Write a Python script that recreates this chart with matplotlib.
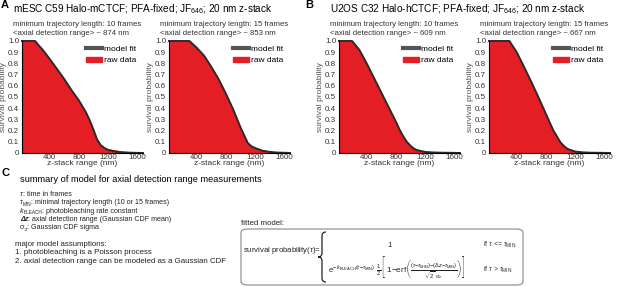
import matplotlib
matplotlib.use("Agg")
import matplotlib.pyplot as plt
from matplotlib.lines import Line2D
from matplotlib.patches import Patch, FancyBboxPatch, PathPatch
from matplotlib.path import Path

plt.rcParams['font.family'] = ['Liberation Sans', 'DejaVu Sans']
plt.rcParams['mathtext.fontset'] = 'custom'
plt.rcParams['mathtext.rm'] = 'Liberation Sans'
plt.rcParams['mathtext.it'] = 'Liberation Sans:italic'
plt.rcParams['mathtext.bf'] = 'Liberation Sans:bold'

W, H = 617, 287
RED = '#e31e25'
FIT = '#2a2a2a'

# z-stack positions (nm) and survival probabilities
z_a10 = [20, 200, 250, 300, 400, 500, 600, 700, 800, 900, 950, 1000, 1050, 1100, 1150, 1200, 1300, 1400, 1500, 1600, 1680]
fit_a10 = [1.0, 1.0, 0.96, 0.925, 0.84, 0.75, 0.66, 0.56, 0.47, 0.36, 0.29, 0.21, 0.12, 0.07, 0.045, 0.028, 0.013, 0.006, 0.003, 0.001, 0.0]
raw_a10 = [1.0, 1.0, 0.96, 0.92, 0.84, 0.75, 0.66, 0.565, 0.47, 0.36, 0.29, 0.205, 0.12, 0.075, 0.05, 0.038, 0.028, 0.017, 0.01, 0.005, 0.003]

z_a15 = [20, 300, 350, 400, 500, 600, 700, 800, 900, 950, 1000, 1050, 1100, 1150, 1200, 1300, 1400, 1500, 1600, 1680]
fit_a15 = [1.0, 1.0, 0.97, 0.94, 0.87, 0.77, 0.66, 0.53, 0.39, 0.31, 0.23, 0.16, 0.09, 0.06, 0.045, 0.02, 0.01, 0.004, 0.002, 0.0]
raw_a15 = [1.0, 1.0, 0.97, 0.94, 0.87, 0.77, 0.66, 0.53, 0.385, 0.31, 0.23, 0.16, 0.095, 0.065, 0.05, 0.03, 0.015, 0.008, 0.004, 0.002]

z_b10 = [20, 200, 250, 300, 400, 500, 600, 700, 800, 850, 900, 950, 1000, 1050, 1100, 1200, 1300, 1400, 1500, 1600, 1680]
fit_b10 = [1.0, 1.0, 0.96, 0.92, 0.80, 0.67, 0.54, 0.41, 0.28, 0.21, 0.15, 0.10, 0.065, 0.038, 0.024, 0.01, 0.005, 0.003, 0.002, 0.001, 0.0]
raw_b10 = [1.0, 1.0, 0.96, 0.92, 0.80, 0.67, 0.54, 0.41, 0.28, 0.21, 0.15, 0.10, 0.068, 0.045, 0.03, 0.016, 0.01, 0.006, 0.004, 0.002, 0.001]

z_b15 = [20, 300, 350, 400, 500, 600, 700, 800, 900, 950, 1000, 1050, 1100, 1200, 1300, 1400, 1500, 1600, 1680]
fit_b15 = [1.0, 1.0, 0.95, 0.90, 0.77, 0.635, 0.495, 0.35, 0.205, 0.15, 0.095, 0.06, 0.035, 0.013, 0.006, 0.003, 0.002, 0.001, 0.0]
raw_b15 = [1.0, 1.0, 0.95, 0.90, 0.77, 0.635, 0.495, 0.35, 0.205, 0.15, 0.10, 0.07, 0.045, 0.022, 0.012, 0.007, 0.004, 0.002, 0.001]

panels = [
    (z_a10, fit_a10, raw_a10, 22, 'minimum trajectory length: 10 frames', '<axial detection range> ~ 874 nm'),
    (z_a15, fit_a15, raw_a15, 169, 'minimum trajectory length: 15 frames', '<axial detection range> ~ 853 nm'),
    (z_b10, fit_b10, raw_b10, 339, 'minimum trajectory length: 10 frames', '<axial detection range> ~ 609 nm'),
    (z_b15, fit_b15, raw_b15, 489, 'minimum trajectory length: 15 frames', '<axial detection range> ~ 667 nm'),
]

yticks = [0, 0.1, 0.2, 0.3, 0.4, 0.5, 0.6, 0.7, 0.8, 0.9, 1.0]
ylabels = ['0', '0.1', '0.2', '0.3', '0.4', '0.5', '0.6', '0.7', '0.8', '0.9', '1.0']
xticks = [400, 800, 1200, 1600]

fig = plt.figure(figsize=(W / 100, H / 100), dpi=100)
renderer = fig.canvas.get_renderer()


def ftxt(x, y, s, **kw):
    # place text using pixel coordinates (origin top-left)
    return fig.text(x / W, 1 - y / H, s, **kw)


def run(x, y, parts, size):
    # a line made of pieces: (text, style, weight, is_subscript)
    for s, style, weight, sub in parts:
        fs = size * 0.68 if sub else size
        dy = 1.5 if sub else 0
        t = ftxt(x, y + dy, s, fontsize=fs, style=style, fontweight=weight,
                 color='#222222', va='baseline')
        x += t.get_window_extent(renderer).width


ax_top, ax_bot, ax_w = 41, 153, 121
for z, fit, raw, left, sub1, sub2 in panels:
    ax = fig.add_axes([left / W, 1 - ax_bot / H, ax_w / W, (ax_bot - ax_top) / H])
    ax.fill_between(z, 0, raw, color=RED, lw=0)
    ax.plot(z, fit, color=FIT, lw=1.4, clip_on=False, solid_joinstyle='round')
    ax.set_xlim(20, 1680)
    ax.set_ylim(0, 1.0)
    ax.set_yticks(yticks)
    ax.set_yticklabels(ylabels)
    ax.set_xticks(xticks)
    ax.tick_params(labelsize=5.8, colors='#333333', length=0)
    ax.tick_params(axis='x', pad=0.5)
    ax.tick_params(axis='y', pad=2)
    for s in ['top', 'right']:
        ax.spines[s].set_visible(False)
    for s in ['left', 'bottom']:
        ax.spines[s].set_color('black')
        ax.spines[s].set_linewidth(0.8)
    ax.set_xlabel('z-stack range (nm)', fontsize=6, color='#333333', labelpad=-0.5)
    ax.set_ylabel('survival probability', fontsize=6, color='#555555', labelpad=1)
    handles = [Line2D([0], [0], color='#555555', lw=3), Patch(color=RED)]
    ax.legend(handles, ['model fit', 'raw data'], loc='upper left', bbox_to_anchor=(0.53, 0.96),
              frameon=False, fontsize=6, handlelength=1.9, handleheight=0.55, handletextpad=0.25,
              labelspacing=0.45, borderpad=0, borderaxespad=0)
    ftxt(left - 9, 26, sub1, fontsize=5.6, color='#333333', va='baseline')
    ftxt(left - 9, 35, sub2, fontsize=5.6, color='#333333', va='baseline')

ftxt(1, 8, 'A', fontsize=8, fontweight='bold', va='baseline')
ftxt(13, 12, 'mESC C59 Halo-mCTCF; PFA-fixed; JF$_{646}$; 20 nm z-stack', fontsize=7.2, va='baseline')
ftxt(305, 8, 'B', fontsize=8, fontweight='bold', va='baseline')
ftxt(330, 12, 'U2OS C32 Halo-hCTCF; PFA-fixed; JF$_{646}$; 20 nm z-stack', fontsize=7.2, va='baseline')

# panel C
ftxt(1, 176, 'C', fontsize=8, fontweight='bold', va='baseline')
ftxt(20, 182, 'summary of model for axial detection range measurements', fontsize=6.7, va='baseline')
c_defs = [
    [('τ', 'italic', 'normal', False), (': time in frames', 'normal', 'normal', False)],
    [('τ', 'italic', 'normal', False), ('MIN', 'normal', 'normal', True),
     (': minimal trajectory length (10 or 15 frames)', 'normal', 'normal', False)],
    [('k', 'italic', 'normal', False), ('BLEACH', 'normal', 'normal', True),
     (': photobleaching rate constant', 'normal', 'normal', False)],
    [('Δz', 'italic', 'bold', False), (': axial detection range (Gaussian CDF mean)', 'normal', 'normal', False)],
    [('σ', 'normal', 'normal', False), ('z', 'normal', 'normal', True),
     (': Gaussian CDF sigma', 'normal', 'normal', False)],
]
c_notes = [
    'major model assumptions:',
    '1. photobleaching is a Poisson process',
    '2. axial detection range can be modeled as a Gaussian CDF',
]
for i, parts in enumerate(c_defs):
    run(20, 196 + i * 8.3, parts, 5.1)
for i, line in enumerate(c_notes):
    ftxt(15, 245.5 + i * 8.6, line, fontsize=5.7, color='#222222', va='baseline')

ftxt(241, 225, 'fitted model:', fontsize=5.7, color='#222222', va='baseline')
box = FancyBboxPatch((241 / W, 1 - 285 / H), (523 - 241) / W, (285 - 229) / H,
                     boxstyle='round,pad=0,rounding_size=0.012', transform=fig.transFigure,
                     fc='white', ec='#888888', lw=0.8)
fig.add_artist(box)
ftxt(243, 252.5, r'survival probability($\tau$)=', fontsize=5.6, color='#222222', va='baseline')

# thin curly brace
bx, bt, bb = 322, 232, 282
bm = (bt + bb) / 2
pts = [(bx + 4, bt), (bx, bt), (bx, bt + 4), (bx, bm - 4), (bx, bm), (bx - 4, bm),
       (bx, bm), (bx, bm + 4), (bx, bb - 4), (bx, bb), (bx + 4, bb)]
codes = [Path.MOVETO, Path.CURVE3, Path.CURVE3, Path.LINETO, Path.CURVE3, Path.CURVE3,
         Path.CURVE3, Path.CURVE3, Path.LINETO, Path.CURVE3, Path.CURVE3]
brace = Path([(x / W, 1 - y / H) for x, y in pts], codes)
fig.add_artist(PathPatch(brace, transform=fig.transFigure, fc='none', ec='#222222', lw=0.9))

ftxt(390, 247, '1', fontsize=5.6, color='#222222', va='baseline', ha='center')
ftxt(328, 268,
     r'$e^{-k_{\mathrm{BLEACH}}(\tau\mathrm{-}\tau_{\mathrm{MIN}})}\ \frac{1}{2}\left[\ 1\mathrm{-erf}\left(\frac{(\tau\mathrm{-}\tau_{\mathrm{MIN}})\mathrm{-}(\Delta z\mathrm{-}\tau_{\mathrm{MIN}})}{\sqrt{2}\ \sigma_z}\right)\right]$',
     fontsize=5.9, color='#222222', va='center')
ftxt(483, 247, r'if $\tau$ <= $\tau_{\mathrm{MIN}}$', fontsize=5, color='#333333', va='baseline')
ftxt(483, 272, r'if $\tau$ > $\tau_{\mathrm{MIN}}$', fontsize=5, color='#333333', va='baseline')

fig.savefig('out.png', dpi=100)
